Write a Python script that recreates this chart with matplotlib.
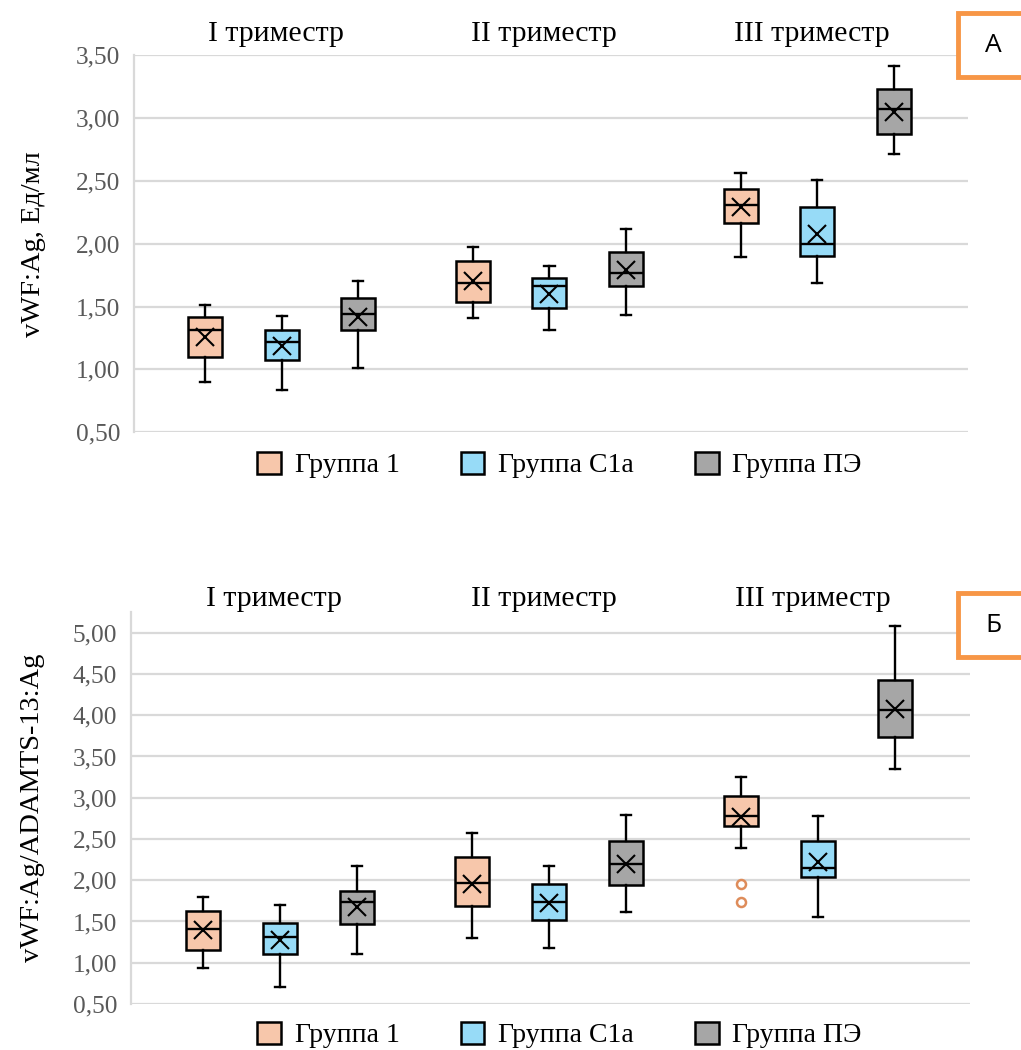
import matplotlib
matplotlib.use("Agg")
import matplotlib.pyplot as plt
from matplotlib.patches import Patch, Rectangle

trimesters = ["I триместр", "II триместр", "III триместр"]
groups = ["Группа 1", "Группа С1а", "Группа ПЭ"]
colors = ["#F7C7AB", "#97DBF7", "#A6A6A6"]

# Panel A: vWF:Ag, Ед/мл  (per group, per trimester)
a_whislo = [[0.90, 1.41, 1.89], [0.84, 1.31, 1.69], [1.01, 1.435, 2.71]]
a_q1 = [[1.10, 1.535, 2.165], [1.075, 1.49, 1.90], [1.31, 1.665, 2.875]]
a_med = [[1.31, 1.685, 2.31], [1.22, 1.665, 1.995], [1.44, 1.77, 3.07]]
a_q3 = [[1.42, 1.86, 2.435], [1.31, 1.725, 2.295], [1.565, 1.93, 3.23]]
a_whishi = [[1.51, 1.975, 2.565], [1.425, 1.825, 2.505], [1.70, 2.12, 3.41]]
a_mean = [[1.26, 1.70, 2.295], [1.19, 1.60, 2.075], [1.42, 1.79, 3.045]]
a_fliers = [[[], [], []], [[], [], []], [[], [], []]]

# Panel Б: vWF:Ag/ADAMTS-13:Ag
b_whislo = [[0.94, 1.295, 2.385], [0.71, 1.175, 1.55], [1.10, 1.615, 3.345]]
b_q1 = [[1.16, 1.69, 2.655], [1.10, 1.52, 2.045], [1.47, 1.945, 3.73]]
b_med = [[1.405, 1.97, 2.78], [1.315, 1.735, 2.145], [1.735, 2.195, 4.065]]
b_q3 = [[1.625, 2.28, 3.015], [1.485, 1.96, 2.47], [1.87, 2.48, 4.425]]
b_whishi = [[1.795, 2.57, 3.255], [1.70, 2.175, 2.78], [2.175, 2.79, 5.085]]
b_mean = [[1.40, 1.96, 2.765], [1.275, 1.72, 2.225], [1.67, 2.20, 4.08]]
b_fliers = [[[], [], [1.96, 1.735]], [[], [], []], [[], [], []]]

yticks = [0.5, 1.0, 1.5, 2.0, 2.5, 3.0, 3.5, 4.0, 4.5, 5.0]

serif = ["Liberation Serif", "DejaVu Serif"]
plt.rcParams["font.family"] = serif

fig = plt.figure(figsize=(10.21, 10.5), dpi=100)

offsets = [-0.286, 0.0, 0.286]
bw = 0.127


def draw_panel(ax, whislo, q1, med, q3, whishi, mean, fliers, ylim, ylabel, lpad):
    for g in range(3):
        stats = []
        for t in range(3):
            stats.append(dict(whislo=whislo[g][t], q1=q1[g][t], med=med[g][t],
                              q3=q3[g][t], whishi=whishi[g][t], mean=mean[g][t],
                              fliers=fliers[g][t]))
        pos = [t + offsets[g] for t in range(3)]
        ax.bxp(stats, positions=pos, widths=bw, patch_artist=True,
               showmeans=True, showfliers=True, manage_ticks=False,
               boxprops=dict(facecolor=colors[g], edgecolor="black", linewidth=1.8),
               medianprops=dict(color="black", linewidth=1.7),
               whiskerprops=dict(color="black", linewidth=1.7),
               capprops=dict(color="black", linewidth=1.7),
               capwidths=0.038,
               meanprops=dict(marker="x", markersize=13, markeredgecolor="black",
                              markeredgewidth=1.5),
               flierprops=dict(marker="o", markersize=6.5, markerfacecolor="white",
                               markeredgecolor="#DE8C5A", markeredgewidth=1.8),
               zorder=3)
    ax.set_xlim(-0.552, 2.564)
    ax.set_ylim(*ylim)
    ticks = [t for t in yticks if t <= ylim[1] + 1e-9]
    ax.set_yticks(ticks)
    ax.set_yticklabels([f"{t:.2f}".replace(".", ",") for t in ticks],
                       fontsize=18.3, color="#595959")
    ax.set_xticks([])
    ax.tick_params(axis="y", length=0, pad=10)
    for t in ticks:
        ax.axhline(t, color="#D9D9D9", linewidth=1.6, zorder=0)
    for s in ["top", "right", "bottom"]:
        ax.spines[s].set_visible(False)
    ax.spines["left"].set_color("#D9D9D9")
    ax.spines["left"].set_linewidth(1.6)
    ax.set_ylabel(ylabel, fontsize=20.5, labelpad=lpad)
    for t in range(3):
        ax.text(t - 0.02, 1.0, trimesters[t], transform=ax.get_xaxis_transform(),
                ha="center", va="bottom", fontsize=21.5)


axA = fig.add_axes([0.1312, 0.5883, 0.817, 0.3593])
draw_panel(axA, a_whislo, a_q1, a_med, a_q3, a_whishi, a_mean, a_fliers,
           (0.5, 3.5), "vWF:Ag, Ед/мл", 21)
for t in axA.texts:
    t.set_position((t.get_position()[0], 1.02))

axB = fig.add_axes([0.1283, 0.0438, 0.8218, 0.3733])
draw_panel(axB, b_whislo, b_q1, b_med, b_q3, b_whishi, b_mean, b_fliers,
           (0.5, 5.25), "vWF:Ag/ADAMTS-13:Ag", 20)
for t in axB.texts:
    t.set_position((t.get_position()[0], 1.0))

handles = [Patch(facecolor=colors[g], edgecolor="black", linewidth=1.8, label=groups[g])
           for g in range(3)]
for yc in [1 - 465 / 1050, 1 - 1035 / 1050]:
    fig.legend(handles=handles, loc="center", bbox_to_anchor=(0.548, yc), ncol=3,
               frameon=False, fontsize=20, handlelength=0.85, handleheight=0.85,
               columnspacing=2.2, handletextpad=0.5)

# corner labels
for y0, lab in [(13, "А"), (593, "Б")]:
    fig.patches.append(Rectangle((958 / 1021, 1 - (y0 + 64) / 1050), 0.08, 64 / 1050,
                                 transform=fig.transFigure, facecolor="white",
                                 edgecolor="#F79646", linewidth=3.5))
    fig.text(993 / 1021, 1 - (y0 + 33) / 1050, lab, ha="center", va="center",
             fontsize=19, family=["Open Sans", "DejaVu Sans"])

fig.savefig("out.png", dpi=100)
